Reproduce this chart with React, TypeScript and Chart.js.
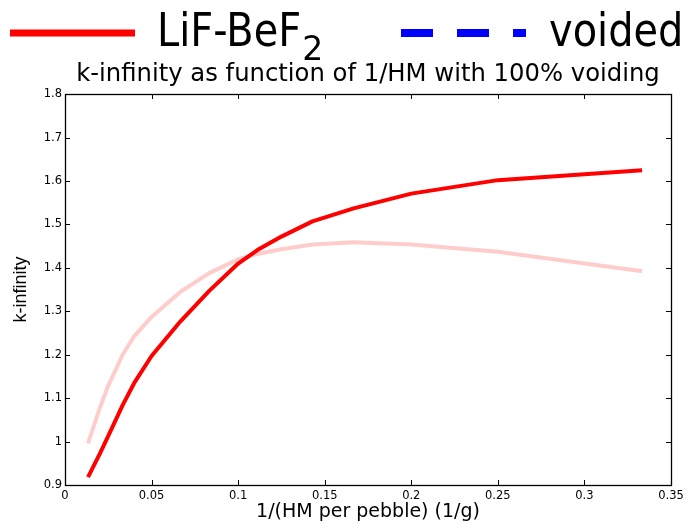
import React, { useEffect, useRef } from 'react';
import { Chart, registerables } from 'chart.js';

Chart.register(...registerables);

// ---- data ----
const xValues = [0.0133, 0.02, 0.025, 0.0333, 0.04, 0.05, 0.0667, 0.0833, 0.1, 0.1111, 0.125, 0.1429, 0.1667, 0.2, 0.25, 0.3333];
const lifBef2Values = [0.918, 0.971, 1.013, 1.084, 1.135, 1.197, 1.277, 1.347, 1.41, 1.441, 1.472, 1.507, 1.537, 1.571, 1.602, 1.625];
const voidedValues = [0.996, 1.076, 1.129, 1.2, 1.243, 1.287, 1.345, 1.388, 1.42, 1.432, 1.443, 1.454, 1.459, 1.454, 1.437, 1.392];
const xTickLabels = ['0', '0.05', '0.1', '0.15', '0.2', '0.25', '0.3', '0.35'];
const yTickLabels = ['0.9', '1', '1.1', '1.2', '1.3', '1.4', '1.5', '1.6', '1.7', '1.8'];
const seriesNames = ['LiF-BeF₂', 'voided'];
const legendTexts = ['LiF-BeF', 'voided'];
const legendSubs = ['2', ''];
const legendColors = ['rgb(255,0,0)', 'rgb(0,0,255)'];
const legendDashes: number[][] = [[], [32, 24]];
const titleText = 'k-infinity as function of 1/HM with 100% voiding';
const xTitleText = '1/(HM per pebble) (1/g)';
const yTitleText = 'k-infinity';

const SANS = '"DejaVu Sans", "Verdana", sans-serif';
const ARIAL = '"Liberation Sans", Arial, sans-serif';

const boxTicksPlugin = {
  id: 'boxTicks',
  afterDatasetsDraw(chart: any) {
    const { ctx, chartArea } = chart;
    const left = Math.round(chartArea.left);
    const right = Math.round(chartArea.right);
    const top = Math.round(chartArea.top);
    const bottom = Math.round(chartArea.bottom);
    const xs = chart.scales.x;
    const ys = chart.scales.y;
    const len = 5;
    ctx.save();
    ctx.strokeStyle = '#000';
    ctx.lineWidth = 1;
    ctx.beginPath();
    xs.ticks.forEach((t: any) => {
      const px = Math.round(xs.getPixelForValue(t.value)) + 0.5;
      ctx.moveTo(px, bottom);
      ctx.lineTo(px, bottom - len);
      ctx.moveTo(px, top);
      ctx.lineTo(px, top + len);
    });
    ys.ticks.forEach((t: any) => {
      const py = Math.round(ys.getPixelForValue(t.value)) + 0.5;
      ctx.moveTo(left, py);
      ctx.lineTo(left + len, py);
      ctx.moveTo(right, py);
      ctx.lineTo(right - len, py);
    });
    ctx.stroke();
    ctx.lineWidth = 1.3;
    ctx.strokeRect(left + 0.5, top + 0.5, right - left, bottom - top);
    ctx.restore();
  },
};

const bigLegendPlugin = {
  id: 'bigLegend',
  afterDraw(chart: any) {
    const { ctx } = chart;
    const lineStarts = [10, 401];
    const textStarts = [157, 549];
    const lineLen = 125;
    const lineY = 33;
    const baseY = 46;
    ctx.save();
    for (let i = 0; i < legendTexts.length; i++) {
      ctx.beginPath();
      ctx.strokeStyle = legendColors[i];
      ctx.lineWidth = i === 0 ? 7 : 8;
      ctx.lineCap = 'butt';
      ctx.setLineDash(legendDashes[i]);
      ctx.moveTo(lineStarts[i], lineY);
      ctx.lineTo(lineStarts[i] + lineLen, lineY);
      ctx.stroke();
      ctx.setLineDash([]);

      ctx.save();
      ctx.translate(textStarts[i], baseY);
      ctx.scale(0.85, 1);
      ctx.fillStyle = '#000';
      ctx.textBaseline = 'alphabetic';
      ctx.textAlign = 'left';
      ctx.font = `47px ${SANS}`;
      ctx.fillText(legendTexts[i], 0, 0);
      const w = ctx.measureText(legendTexts[i]).width;
      ctx.restore();
      if (legendSubs[i]) {
        ctx.fillStyle = '#000';
        ctx.font = `33px ${SANS}`;
        ctx.fillText(legendSubs[i], textStarts[i] + w * 0.85 + 1, baseY + 14);
      }
    }
    ctx.restore();
  },
};

export default function App() {
  const canvasRef = useRef<HTMLCanvasElement | null>(null);

  useEffect(() => {
    if (!canvasRef.current) return;
    const chart = new Chart(canvasRef.current, {
      type: 'line',
      data: {
        datasets: [
          {
            label: seriesNames[0],
            data: xValues.map((x, i) => ({ x, y: lifBef2Values[i] })),
            borderColor: 'rgb(255,0,0)',
            backgroundColor: 'rgb(255,0,0)',
            borderWidth: 4,
            pointRadius: 0,
            tension: 0,
            borderJoinStyle: 'round',
            fill: false,
          },
          {
            label: seriesNames[1],
            data: xValues.map((x, i) => ({ x, y: voidedValues[i] })),
            borderColor: 'rgb(255,204,204)',
            backgroundColor: 'rgb(255,204,204)',
            borderWidth: 4,
            pointRadius: 0,
            tension: 0,
            borderJoinStyle: 'round',
            fill: false,
          },
        ],
      },
      options: {
        responsive: false,
        devicePixelRatio: 1,
        animation: false,
        layout: { padding: { top: 60, left: 0, right: 18, bottom: 0 } },
        plugins: {
          legend: { display: false },
          tooltip: { enabled: false },
          title: {
            display: true,
            fullSize: false,
            text: titleText,
            color: '#000',
            font: { family: SANS, size: 24.3, weight: 'normal', lineHeight: 1.2 },
            padding: { top: 0, bottom: 5 },
          },
        },
        scales: {
          x: {
            type: 'linear',
            min: 0,
            max: 0.35,
            grid: { display: false, drawTicks: false },
            border: { display: false },
            ticks: {
              stepSize: 0.05,
              color: '#000',
              padding: 4,
              maxRotation: 0,
              font: { family: SANS, size: 11.5 },
              callback: (_v: any, i: number) => xTickLabels[i],
            },
            title: {
              display: true,
              text: xTitleText,
              color: '#000',
              font: { family: SANS, size: 19, lineHeight: 1 },
              padding: { top: 0, bottom: 0 },
            },
            afterFit: (s: any) => {
              s.height = 37;
            },
          },
          y: {
            type: 'linear',
            min: 0.9,
            max: 1.8,
            grid: { display: false, drawTicks: false },
            border: { display: false },
            ticks: {
              stepSize: 0.1,
              color: '#000',
              padding: 3,
              font: { family: SANS, size: 11.5 },
              callback: (_v: any, i: number) => yTickLabels[i],
            },
            title: {
              display: true,
              text: yTitleText,
              color: '#000',
              font: { family: ARIAL, size: 18, lineHeight: 1.2 },
              padding: { top: 10, bottom: 0 },
            },
            afterFit: (s: any) => {
              s.width = 65;
            },
          },
        },
      },
      plugins: [boxTicksPlugin, bigLegendPlugin],
    } as any);
    return () => chart.destroy();
  }, []);

  return (
    <div style={{ position: 'fixed', left: 0, top: 0, width: 689, height: 522, background: '#fff' }}>
      <canvas ref={canvasRef} width={689} height={522} style={{ display: 'block', width: 689, height: 522 }} />
    </div>
  );
}
